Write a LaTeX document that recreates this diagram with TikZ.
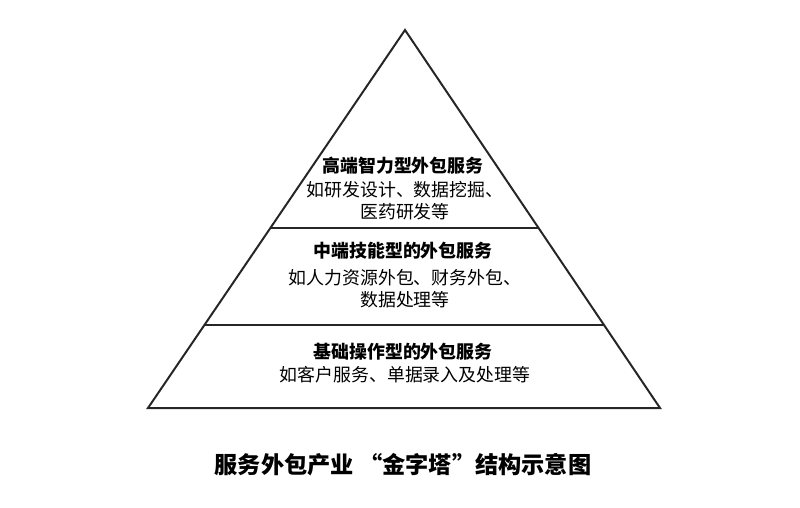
\documentclass[tikz,border=0pt]{standalone}
\usepackage{fontspec}
\setmainfont{Noto Sans CJK SC}
\begin{document}
\begin{tikzpicture}[x=0.0265cm,y=-0.0265cm,
    edge line/.style={draw=black!85,line width=1.5pt,line join=miter},
    head text/.style={font=\fontsize{13.5}{16}\selectfont\bfseries,inner sep=0pt},
    body text/.style={font=\fontsize{13.5}{16.5}\selectfont,align=center,inner sep=0pt}]
    \useasboundingbox (0,0) rectangle (800,507);

    \coordinate (apex) at (405,30);
    \coordinate (baseL) at (148,408);
    \coordinate (baseR) at (660,408);
    \coordinate (midL) at (270.4,228);
    \coordinate (midR) at (538.6,228);
    \coordinate (lowL) at (204.4,325);
    \coordinate (lowR) at (604,325);

    \draw[edge line] (apex) -- (baseR) -- (baseL) -- cycle;
    \draw[edge line] (midL) -- (midR);
    \draw[edge line] (lowL) -- (lowR);

    \node[head text] (top) at (403,166) {高端智力型外包服务};
    \node[body text] (topb) at (405,201) {如研发设计、数据挖掘、\\医药研发等};
    \node[head text] (mid) at (403,251) {中端技能型的外包服务};
    \node[body text] (midb) at (405,289) {如人力资源外包、财务外包、\\数据处理等};
    \node[head text] (low) at (403,352) {基础操作型的外包服务};
    \node[body text] (lowb) at (405,375) {如客户服务、单据录入及处理等};

    \node[font=\fontsize{17.5}{20}\selectfont\bfseries,inner sep=0pt] (caption) at (403,465) {服务外包产业 “金字塔”结构示意图};
\end{tikzpicture}
\end{document}
